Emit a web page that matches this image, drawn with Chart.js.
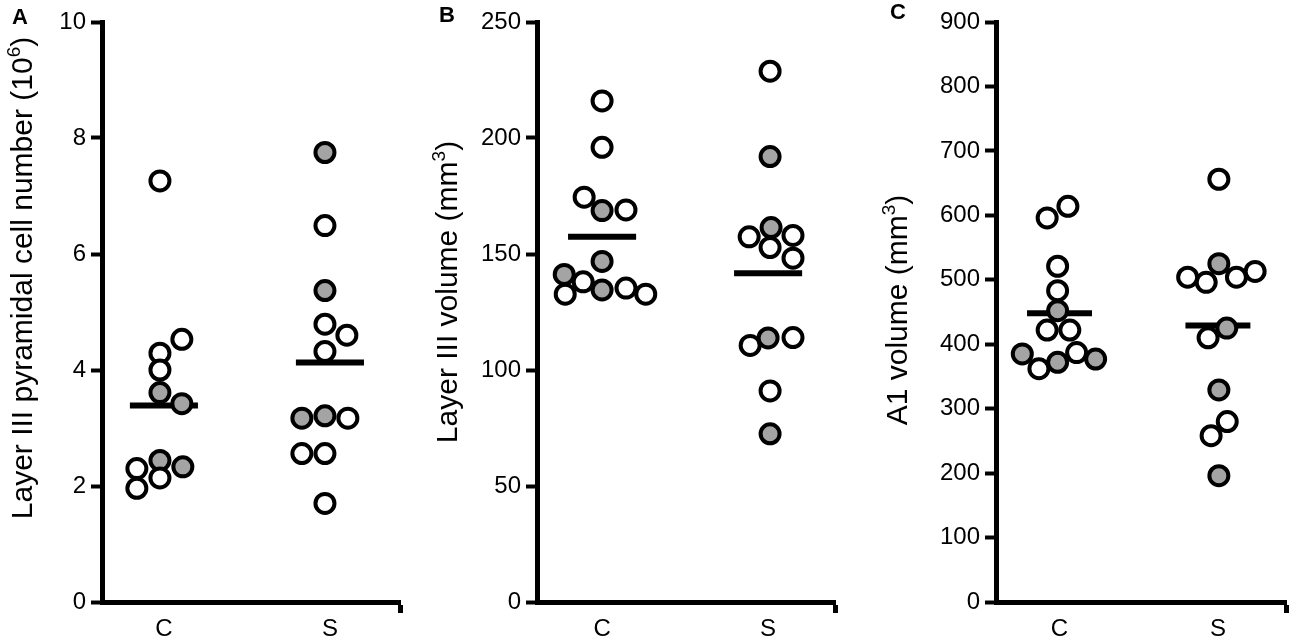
<!DOCTYPE html>
<html>
<head>
<meta charset="utf-8">
<script src="https://cdn.jsdelivr.net/npm/chart.js"></script>
<style>
  body { margin: 0; background: #fff; }
  #wrap { position: relative; width: 1300px; height: 642px; }
  canvas { position: absolute; top: 0; }
</style>
</head>
<body>
<div id="wrap">
  <canvas id="panelA" width="420" height="642" style="left:0px"></canvas>
  <canvas id="panelB" width="430" height="642" style="left:430px"></canvas>
  <canvas id="panelC" width="420" height="642" style="left:880px"></canvas>
</div>
<script>
const groups = ['C', 'S'];

// ---------- A: layer III pyramidal cell number (10^6) ----------
const cellsTicks = [0, 2, 4, 6, 8, 10];
const cellsC     = [7.26, 4.53, 4.29, 4.00, 3.61, 3.42, 2.44, 2.33, 2.30, 2.14, 1.96];
const cellsCJit  = [-0.024, 0.108, -0.024, -0.024, -0.024, 0.108, -0.024, 0.114, -0.163, -0.024, -0.163];
const cellsCGray = [0, 0, 0, 0, 1, 1, 1, 1, 0, 0, 0];
const cellsS     = [7.75, 6.49, 5.37, 4.79, 4.60, 4.32, 3.21, 3.17, 3.17, 2.56, 2.56, 1.70];
const cellsSJit  = [-0.030, -0.030, -0.030, -0.030, 0.102, -0.030, -0.030, -0.169, 0.108, -0.169, -0.030, -0.030];
const cellsSGray = [1, 0, 1, 0, 0, 0, 1, 1, 0, 0, 0, 0];
const cellsMeans = [3.39, 4.13];

// ---------- B: layer III volume (mm3) ----------
const l3Ticks  = [0, 50, 100, 150, 200, 250];
const l3C      = [216, 196, 174.5, 168.7, 169, 146.8, 141.2, 138, 134.5, 135.3, 132.7, 132.7];
const l3CJit   = [0, 0, -0.108, 0, 0.144, 0, -0.228, -0.114, 0, 0.144, -0.222, 0.263];
const l3CGray  = [0, 0, 0, 1, 0, 1, 1, 0, 1, 0, 0, 0];
const l3S      = [228.8, 192, 161.4, 157.4, 158, 152.8, 148.2, 113.8, 114, 110.6, 91, 72.5];
const l3SJit   = [0.012, 0.012, 0.018, -0.114, 0.15, 0.012, 0.15, 0, 0.15, -0.108, 0.012, 0.012];
const l3SGray  = [0, 1, 1, 0, 0, 0, 0, 1, 0, 0, 0, 1];
const l3Means  = [157.4, 141.7];

// ---------- C: A1 volume (mm3) ----------
const a1Ticks  = [0, 100, 200, 300, 400, 500, 600, 700, 800, 900];
const a1C      = [614, 596, 521, 483, 452, 422, 422, 385, 387, 372, 377, 362];
const a1CJit   = [0.053, -0.078, -0.012, -0.012, -0.012, -0.078, 0.065, -0.235, 0.108, -0.012, 0.228, -0.130];
const a1CGray  = [0, 0, 0, 0, 1, 0, 0, 1, 0, 1, 1, 0];
const a1S      = [656, 525, 513, 504, 504, 496, 425, 410, 329, 280, 258, 196];
const a1SJit   = [0.006, 0.006, 0.235, -0.191, 0.117, -0.074, 0.056, -0.062, 0.006, 0.059, -0.043, 0.006];
const a1SGray  = [0, 1, 0, 0, 0, 0, 1, 0, 1, 0, 0, 1];
const a1Means  = [448, 429];

const FONT = '"Liberation Sans", Arial, Helvetica, sans-serif';
const GRAY = '#a4a4a4';
const MEAN_HALF = 0.205;

/* ---------- panel letter + rotated y title with superscript ---------- */
const panelText = {
  id: 'panelText',
  afterDraw(chart, args, o) {
    const ctx = chart.ctx;
    ctx.save();
    ctx.fillStyle = '#000';
    ctx.font = 'bold 22px ' + FONT;
    ctx.textAlign = 'center';
    ctx.textBaseline = 'middle';
    ctx.fillText(o.letter, o.letterX, o.letterY);

    const big = '30px ' + FONT, small = '19px ' + FONT;
    let total = 0;
    o.title.forEach(p => { ctx.font = p.sup ? small : big; total += ctx.measureText(p.t).width; });
    ctx.translate(o.titleX, o.titleY);
    ctx.rotate(-Math.PI / 2);
    ctx.textAlign = 'left';
    let x = -total / 2;
    o.title.forEach(p => {
      ctx.font = p.sup ? small : big;
      ctx.fillText(p.t, x, p.sup ? -9 : 0);
      x += ctx.measureText(p.t).width;
    });
    ctx.restore();
  }
};

function pointSet(values, jit, gray, cat) {
  return {
    data: values.map((v, i) => ({ x: cat + jit[i], y: v })),
    showLine: false,
    pointRadius: 9.5,
    pointBorderWidth: 4,
    pointBorderColor: '#000',
    pointBackgroundColor: ctx => gray[ctx.dataIndex] ? GRAY : '#fff'
  };
}

function meanSet(mean, cat) {
  return {
    data: [{ x: cat - MEAN_HALF, y: mean }, { x: cat + MEAN_HALF, y: mean }],
    showLine: true,
    borderColor: '#000',
    borderWidth: 6,
    pointRadius: 0
  };
}

function makePanel(id, p) {
  new Chart(document.getElementById(id), {
    type: 'scatter',
    data: {
      datasets: [
        pointSet(p.c, p.cJit, p.cGray, 0),
        pointSet(p.s, p.sJit, p.sGray, 1),
        meanSet(p.means[0], 0),
        meanSet(p.means[1], 1)
      ]
    },
    options: {
      responsive: false,
      animation: false,
      devicePixelRatio: 1,
      events: [],
      layout: { padding: { top: 22, right: p.padR, left: 0, bottom: 0 } },
      plugins: {
        legend: { display: false },
        tooltip: { enabled: false },
        panelText: p.text
      },
      scales: {
        x: {
          type: 'linear',
          min: p.xMin,
          max: p.xMax,
          afterFit: s => { s.height = 40; },
          afterBuildTicks: s => { s.ticks = [{ value: 0 }, { value: 1 }, { value: s.max }]; },
          grid: {
            display: true,
            drawOnChartArea: false,
            tickLength: 11,
            tickWidth: 5,
            tickColor: ctx => (ctx.tick && ctx.tick.value === ctx.scale.max) ? '#000' : 'rgba(0,0,0,0)'
          },
          border: { display: true, width: 5, color: '#000' },
          ticks: {
            autoSkip: false,
            maxRotation: 0,
            padding: 2,
            color: '#000',
            font: { family: FONT, size: 24 },
            callback: v => groups[v] !== undefined ? groups[v] : ''
          }
        },
        y: {
          min: p.ticks[0],
          max: p.ticks[p.ticks.length - 1],
          afterFit: s => { s.width = p.axisW; },
          afterBuildTicks: s => { s.ticks = p.ticks.map(v => ({ value: v })); },
          grid: {
            display: true,
            drawOnChartArea: false,
            tickLength: 11,
            tickWidth: 4,
            tickColor: '#000'
          },
          border: { display: true, width: 5, color: '#000' },
          ticks: {
            padding: 5,
            color: '#000',
            font: { family: FONT, size: 24 }
          }
        }
      }
    },
    plugins: [panelText]
  });
}

makePanel('panelA', {
  c: cellsC, cJit: cellsCJit, cGray: cellsCGray,
  s: cellsS, sJit: cellsSJit, sGray: cellsSGray,
  means: cellsMeans, ticks: cellsTicks,
  xMin: -0.373, xMax: 1.422, axisW: 102, padR: 20,
  text: {
    letter: 'A', letterX: 20, letterY: 18,
    titleX: 24, titleY: 278,
    title: [{ t: 'Layer III pyramidal cell number (10' }, { t: '6', sup: true }, { t: ')' }]
  }
});

makePanel('panelB', {
  c: l3C, cJit: l3CJit, cGray: l3CGray,
  s: l3S, sJit: l3SJit, sGray: l3SGray,
  means: l3Means, ticks: l3Ticks,
  xMin: -0.392, xMax: 1.403, axisW: 107, padR: 25,
  text: {
    letter: 'B', letterX: 17, letterY: 16,
    titleX: 19, titleY: 292,
    title: [{ t: 'Layer III volume (mm' }, { t: '3', sup: true }, { t: ')' }]
  }
});

makePanel('panelC', {
  c: a1C, cJit: a1CJit, cGray: a1CGray,
  s: a1S, sJit: a1SJit, sGray: a1SGray,
  means: a1Means, ticks: a1Ticks,
  xMin: -0.401, xMax: 1.433, axisW: 116, padR: 7,
  text: {
    letter: 'C', letterX: 18, letterY: 13,
    titleX: 19, titleY: 310,
    title: [{ t: 'A1 volume (mm' }, { t: '3', sup: true }, { t: ')' }]
  }
});
</script>
</body>
</html>
